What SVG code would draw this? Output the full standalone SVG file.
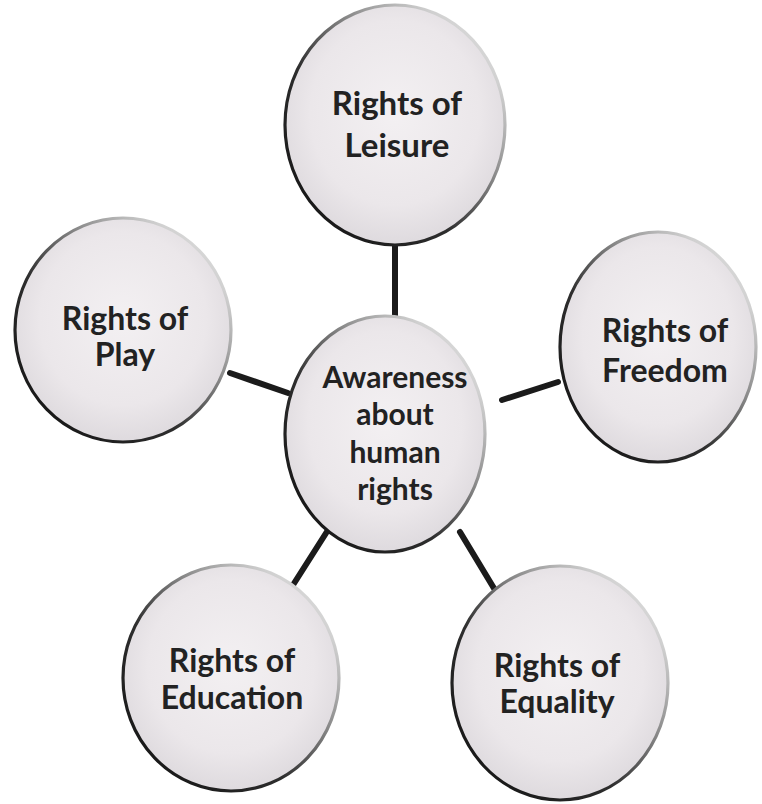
<svg xmlns="http://www.w3.org/2000/svg" width="762" height="804" viewBox="0 0 762 804">
<defs>
<radialGradient id="fillG" cx="0.5" cy="0.45" r="0.55">
<stop offset="0" stop-color="#f3f0f2"/>
<stop offset="0.7" stop-color="#ebe7ea"/>
<stop offset="1" stop-color="#dedade"/>
</radialGradient>
<linearGradient id="strokeG" x1="0" y1="1" x2="1" y2="0">
<stop offset="0" stop-color="#0e0e0e"/>
<stop offset="0.4" stop-color="#2e2e2e"/>
<stop offset="0.62" stop-color="#8a8a8a"/>
<stop offset="0.82" stop-color="#d0d0d0"/>
<stop offset="1" stop-color="#ececec"/>
</linearGradient>
</defs>
<style>
.node ellipse{fill:url(#fillG);stroke:url(#strokeG);stroke-width:3.2}
.node text{font-family:Lato,"Open Sans","Liberation Sans",sans-serif;font-weight:700;fill:#222222;text-anchor:middle}
.edges line{stroke:#1b1b1b;stroke-width:6;stroke-linecap:round}
</style>
<rect width="762" height="804" fill="#ffffff"/>
<g class="edges" id="connectors">
<line x1="395" y1="245" x2="395" y2="316"/>
<line x1="230" y1="373" x2="288" y2="393"/>
<line x1="502" y1="400" x2="558" y2="382"/>
<line x1="328" y1="530" x2="293" y2="585"/>
<line x1="460" y1="532" x2="498" y2="595"/>
</g>
<g class="node" id="leisure">
<ellipse cx="395" cy="125" rx="110" ry="120"/>
<text x="397" y="115" font-size="33">Rights of</text>
<text x="397" y="157" font-size="33">Leisure</text>
</g>
<g class="node" id="play">
<ellipse cx="123" cy="330" rx="108" ry="112"/>
<text x="125" y="330" font-size="32">Rights of</text>
<text x="125" y="366" font-size="32">Play</text>
</g>
<g class="node" id="freedom">
<ellipse cx="658" cy="347" rx="98" ry="115"/>
<text x="665" y="342" font-size="32">Rights of</text>
<text x="665" y="382" font-size="32">Freedom</text>
</g>
<g class="node" id="center">
<ellipse cx="385" cy="434" rx="100" ry="118"/>
<text x="395" y="388" font-size="30">Awareness</text>
<text x="395" y="425" font-size="30">about</text>
<text x="395" y="463" font-size="30">human</text>
<text x="395" y="500" font-size="30">rights</text>
</g>
<g class="node" id="education">
<ellipse cx="231" cy="678" rx="108" ry="113"/>
<text x="232" y="672" font-size="32">Rights of</text>
<text x="232" y="709" font-size="32">Education</text>
</g>
<g class="node" id="equality">
<ellipse cx="560" cy="683" rx="108" ry="117"/>
<text x="557" y="677" font-size="32">Rights of</text>
<text x="557" y="713" font-size="32">Equality</text>
</g>
</svg>
